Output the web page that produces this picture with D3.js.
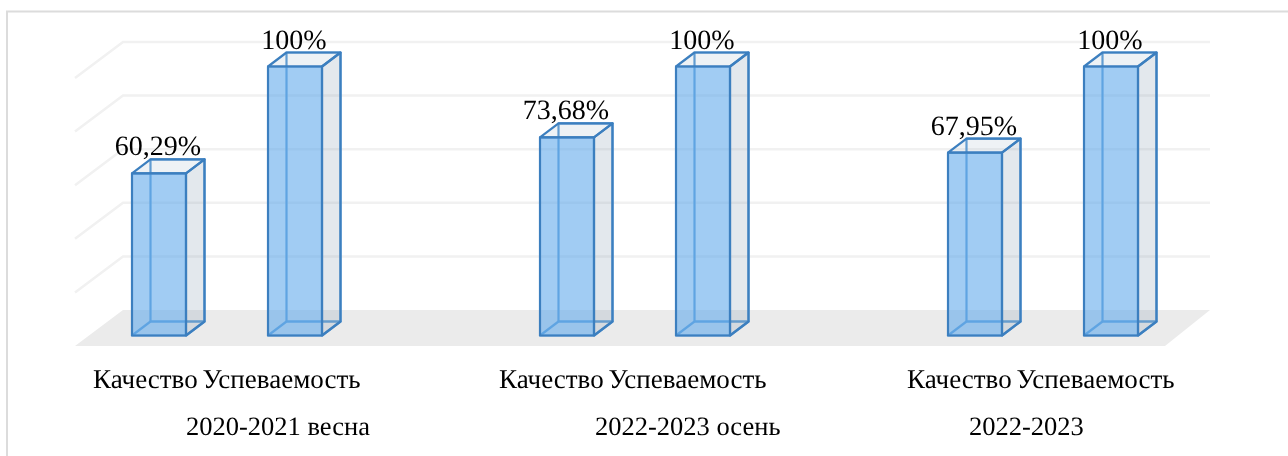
<!DOCTYPE html>
<html>
<head>
<meta charset="utf-8">
<script src="https://cdn.jsdelivr.net/npm/d3@7"></script>
<style>
    html, body { margin: 0; background: #fff; }
    svg { display: block; filter: blur(0.45px); }
    text { font-family: "Liberation Serif", serif; fill: #000; text-rendering: geometricPrecision; }
</style>
</head>
<body>
<div id="container"></div>
<script>
// values

const groups = ['2020-2021 весна', '2022-2023 осень', '2022-2023']
const categories = ['Качество', 'Успеваемость']
const quality = [60.29, 73.68, 67.95]
const success = [100, 100, 100]
const qualityLabels = ['60,29%', '73,68%', '67,95%']
const successLabels = ['100%', '100%', '100%']
const gridValues = [0, 20, 40, 60, 80, 100]

// group captions are not centred the same way in the original
const groupLabelX = [186, 595, 969]

const width = 1288
const height = 456

// depth of the fake 3d
const depth = { x: 18.5, y: -14 }
const wallDepth = { x: -48, y: 36 }

const data = []
groups.forEach((g, i) => {
    data.push({ group: g, cat: categories[0], value: quality[i], label: qualityLabels[i] })
    data.push({ group: g, cat: categories[1], value: success[i], label: successLabels[i] })
})

const svg = d3.select('#container').append('svg')
    .attr('width', width).attr('height', height)

const xGroup = d3.scaleBand().domain(groups).range([23, 1247])
const xBar = d3.scaleBand().domain(categories)
    .range([109, 299])
    .paddingInner(0.603)
    .paddingOuter(0)

const yScale = d3.scaleLinear().domain([0, 100]).range([335.5, 66.5])
const yWall = d3.scaleLinear().domain([0, 100]).range([310, 42])

const line = d3.line()

// frame
svg.append('path')
    .attr('d', line([[7, height], [7, 11.5], [width, 11.5]]))
    .attr('fill', 'none')
    .attr('stroke', '#dcdcdc')
    .attr('stroke-width', 2)

// floor
const wallLeft = 123
const wallRight = 1210

svg.append('path')
    .attr('d', line([
        [wallLeft, yWall(0)],
        [wallRight, yWall(0)],
        [wallRight + wallDepth.x + 3, yWall(0) + wallDepth.y],
        [wallLeft + wallDepth.x, yWall(0) + wallDepth.y]
    ]) + 'Z')
    .attr('fill', '#ebebeb')

// grid
svg.append('g').attr('id', 'grid').selectAll('path')
    .data(gridValues.slice(1))
    .enter()
    .append('path')
    .attr('d', d => line([
        [wallLeft + wallDepth.x, yWall(d) + wallDepth.y],
        [wallLeft, yWall(d)],
        [wallRight, yWall(d)]
    ]))
    .attr('fill', 'none')
    .attr('stroke', '#f1f1f1')
    .attr('stroke-width', 2.5)

// bars
const bars = svg.append('g').attr('id', 'bars').selectAll('g')
    .data(data)
    .enter()
    .append('g')

const corners = d => {
    const x0 = xGroup(d.group) + xBar(d.cat)
    const x1 = x0 + xBar.bandwidth()
    const y0 = yScale(0)
    const y1 = yScale(d.value)
    return { x0, x1, y0, y1 }
}

const face = (cls, pts, fill, stroke) => {
    bars.append('path')
        .attr('class', cls)
        .attr('d', d => line(pts(corners(d))) + 'Z')
        .attr('fill', fill)
        .attr('stroke', stroke)
        .attr('stroke-width', 2.2)
        .attr('stroke-linejoin', 'round')
}

const blueFill = 'rgba(98, 170, 235, 0.6)'
const sideFill = 'rgba(140, 160, 180, 0.24)'
const topFill = 'rgba(140, 165, 185, 0.15)'
const backLine = '#5b9bd5'
const frontLine = '#3c7fbf'

// back edges first, they show through the front
face('back', c => [
    [c.x0 + depth.x, c.y0 + depth.y],
    [c.x1 + depth.x, c.y0 + depth.y],
    [c.x1 + depth.x, c.y1 + depth.y],
    [c.x0 + depth.x, c.y1 + depth.y]
], 'none', backLine)

face('bottom', c => [
    [c.x0, c.y0],
    [c.x1, c.y0],
    [c.x1 + depth.x, c.y0 + depth.y],
    [c.x0 + depth.x, c.y0 + depth.y]
], 'none', backLine)

face('side', c => [
    [c.x1, c.y0],
    [c.x1 + depth.x, c.y0 + depth.y],
    [c.x1 + depth.x, c.y1 + depth.y],
    [c.x1, c.y1]
], sideFill, frontLine)

face('top', c => [
    [c.x0, c.y1],
    [c.x0 + depth.x, c.y1 + depth.y],
    [c.x1 + depth.x, c.y1 + depth.y],
    [c.x1, c.y1]
], topFill, frontLine)

face('front', c => [
    [c.x0, c.y0],
    [c.x1, c.y0],
    [c.x1, c.y1],
    [c.x0, c.y1]
], blueFill, frontLine)

// value labels
bars.append('text')
    .attr('x', d => corners(d).x0 + xBar.bandwidth() / 2 - 1)
    .attr('y', d => corners(d).y1 + depth.y - 4)
    .attr('text-anchor', 'middle')
    .style('font-size', '28px')
    .text(d => d.label)

// category labels
const catOffset = { 'Качество': 70, 'Успеваемость': 179.5 }

svg.append('g').attr('id', 'categories').selectAll('text')
    .data(data)
    .enter()
    .append('text')
    .attr('x', d => xGroup(d.group) + catOffset[d.cat] - (d.group === groups[0] ? 0 : 2))
    .attr('y', 387.5)
    .style('font-size', '27px')
    .text(d => d.cat)

// group labels
svg.append('g').attr('id', 'groups').selectAll('text')
    .data(groups)
    .enter()
    .append('text')
    .attr('x', (d, i) => groupLabelX[i])
    .attr('y', 435)
    .style('font-size', '26.5px')
    .text(d => d)
</script>
</body>
</html>
